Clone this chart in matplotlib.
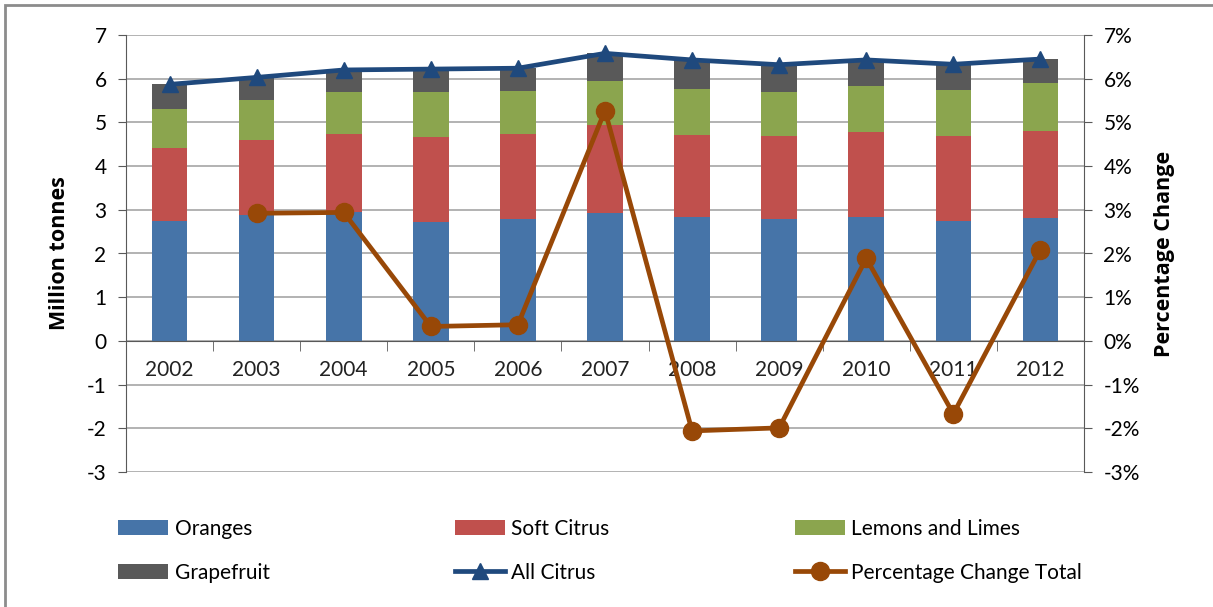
import numpy as np
import matplotlib.pyplot as plt
from matplotlib.patches import Rectangle
from matplotlib.ticker import FuncFormatter

# data
years = ["2002", "2003", "2004", "2005", "2006", "2007", "2008", "2009", "2010", "2011", "2012"]
oranges = [2.75, 2.87, 2.96, 2.73, 2.78, 2.93, 2.84, 2.78, 2.84, 2.75, 2.81]
soft_citrus = [1.67, 1.73, 1.78, 1.93, 1.96, 2.02, 1.87, 1.91, 1.94, 1.94, 2.00]
lemons_limes = [0.89, 0.92, 0.95, 1.03, 0.98, 1.00, 1.06, 1.00, 1.06, 1.05, 1.09]
grapefruit = [0.56, 0.51, 0.51, 0.53, 0.52, 0.63, 0.68, 0.63, 0.59, 0.59, 0.55]
all_citrus = [5.87, 6.03, 6.20, 6.22, 6.24, 6.58, 6.43, 6.32, 6.43, 6.33, 6.45]
pct_years = ["2003", "2004", "2005", "2006", "2007", "2008", "2009", "2010", "2011", "2012"]
pct_change = [2.92, 2.94, 0.33, 0.37, 5.27, -2.06, -1.99, 1.89, -1.67, 2.09]

plt.rcParams['font.family'] = ['Lato', 'DejaVu Sans']
plt.rcParams['axes.unicode_minus'] = False

fig = plt.figure(figsize=(12.13, 6.07), dpi=100)
ax = fig.add_axes([126/1213, 1-472/607, (1084-126)/1213, (472-35)/607])
ax2 = ax.twinx()

x = np.arange(len(years))
w = 0.41
b1 = np.array(oranges)
b2 = b1 + np.array(soft_citrus)
b3 = b2 + np.array(lemons_limes)
ax.bar(x, oranges, w, color="#4674A8", label="Oranges", zorder=2)
ax.bar(x, soft_citrus, w, bottom=b1, color="#C0504D", label="Soft Citrus", zorder=2)
ax.bar(x, lemons_limes, w, bottom=b2, color="#8BA54E", label="Lemons and Limes", zorder=2)
ax.bar(x, grapefruit, w, bottom=b3, color="#595959", label="Grapefruit", zorder=2)
ax.plot(x, all_citrus, color="#1F497D", lw=3.4, marker="^", ms=12, label="All Citrus", zorder=3)

px = [years.index(y) for y in pct_years]
ax2.plot(px, pct_change, color="#984807", lw=3.4, marker="o", ms=13, label="Percentage Change Total")

# left axis
ax.set_xlim(-0.5, len(years) - 0.5)
ax.set_ylim(-3, 7)
ax.set_yticks(range(-3, 8))
ax.grid(axis="y", color="#A6A6A6", lw=1.2, zorder=0)
ax.set_axisbelow(True)
ax.spines["top"].set_visible(False)
ax.spines["bottom"].set_position(("data", 0))
ax.spines["bottom"].set_color("#595959")
ax.spines["left"].set_color("#595959")
ax.spines["right"].set_visible(False)
ax.set_xticks(x)
ax.set_xticklabels(years)
ax.set_xticks(np.arange(-0.5, len(years)), minor=True)
ax.tick_params(axis="x", which="major", length=0, pad=14, labelsize=15, colors="#222222")
ax.tick_params(axis="x", which="minor", length=7, color="#595959")
ax.tick_params(axis="y", length=6, color="#595959", labelsize=15, pad=8)
ax.set_ylabel("Million tonnes", fontsize=15.5, fontweight="bold", family="Open Sans", labelpad=12)

# right axis
ax2.set_ylim(-3, 7)
ax2.set_yticks(range(-3, 8))
ax2.yaxis.set_major_formatter(FuncFormatter(lambda v, p: f"{int(v)}%"))
ax2.tick_params(axis="y", length=6, color="#595959", labelsize=15, pad=8)
for s in ["top", "bottom", "left"]:
    ax2.spines[s].set_visible(False)
ax2.spines["right"].set_color("#595959")
ax2.set_ylabel("Percentage Change", fontsize=15.5, fontweight="bold", family="Open Sans", labelpad=10)

# outer chart border
fig.add_artist(Rectangle((5/1213, -0.1), 1.2, 1 - 5/607 + 0.1, transform=fig.transFigure,
                         fill=False, ec="#8C8C8C", lw=2))

h1, l1 = ax.get_legend_handles_labels()
h2, l2 = ax2.get_legend_handles_labels()
handles = h1[1:] + h1[:1] + h2
labels = l1[1:] + l1[:1] + l2
# row order: Oranges, Soft Citrus, Lemons / Grapefruit, All Citrus, Pct
order = [0, 3, 1, 4, 2, 5]
hs = [handles[i] for i in order]
ls = [labels[i] for i in order]
fig.legend(hs, ls, ncol=3, loc="center left", bbox_to_anchor=(110/1213, 1-551/607, 980/1213, 0.001),
           mode="expand", frameon=False, fontsize=15, handlelength=2.4, handletextpad=0.3,
           labelspacing=1.15, borderaxespad=0)

fig.savefig("out.png", dpi=100)
